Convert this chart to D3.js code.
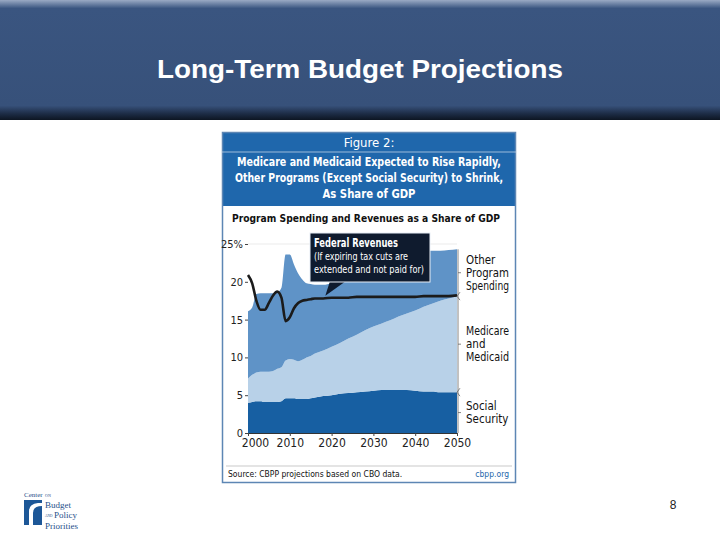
<!DOCTYPE html>
<html>
<head>
<meta charset="utf-8">
<script src="https://cdn.jsdelivr.net/npm/d3@7"></script>
<style>
  body { margin: 0; background: #fff; }
  svg { display: block; }
  .cond { font-family: "DejaVu Sans Condensed", "DejaVu Sans", sans-serif; font-stretch: condensed; }
</style>
</head>
<body>
<div id="slide"></div>
<script>
var width = 720, height = 540;

// years and series (share of GDP, %)
var years = [2000,2001,2002,2003,2004,2005,2006,2007,2008,2009,2010,2011,2012,2013,2014,2015,2016,
  2018,2020,2022,2024,2026,2028,2030,2032,2034,2036,2038,2040,2042,2044,2046,2048,2050];
var socialSecurity = [4.0,4.1,4.2,4.2,4.1,4.1,4.1,4.1,4.2,4.6,4.6,4.6,4.5,4.5,4.5,4.6,4.7,
  4.9,5.0,5.2,5.3,5.4,5.5,5.6,5.7,5.7,5.7,5.7,5.6,5.5,5.5,5.4,5.4,5.4];
var medicareMedicaid = [3.2,3.6,3.8,3.9,4.0,4.0,4.1,4.4,4.5,5.0,5.2,5.1,5.0,5.2,5.5,5.6,5.8,
  6.0,6.4,6.7,7.2,7.6,8.1,8.5,8.8,9.2,9.7,10.1,10.6,11.2,11.6,12.1,12.4,12.7];
var otherPrograms = [8.9,8.9,10.4,10.4,10.4,10.4,10.3,10.1,10.5,14.0,13.8,12.6,11.6,10.6,9.8,9.5,9.1,
  8.7,8.4,8.4,8.4,8.5,8.4,8.4,8.4,8.4,8.2,8.0,7.8,7.3,7.0,6.6,6.4,6.2];
var revenues = [20.9,19.8,17.5,16.3,16.3,17.2,18.2,18.7,17.9,14.8,15.3,16.5,17.2,17.5,17.6,17.7,17.8,
  17.8,17.9,17.9,17.9,18.0,18.0,18.0,18.0,18.0,18.0,18.0,18.0,18.1,18.1,18.1,18.1,18.2];

var seriesKeys = ['ss', 'mm', 'other'];
var seriesColors = { ss: '#175fa2', mm: '#b8d1e8', other: '#5f93c7' };
var seriesLabels = {
  other: ['Other', 'Program', 'Spending'],
  mm: ['Medicare', 'and', 'Medicaid'],
  ss: ['Social', 'Security']
};
var yTicks = [0, 5, 10, 15, 20, 25];
var xTicks = [2000, 2010, 2020, 2030, 2040, 2050];
var titleLines = ['Medicare and Medicaid Expected to Rise Rapidly,',
  'Other Programs  (Except Social Security) to Shrink,', 'As Share of GDP'];

var rows = years.map(function(y, i) {
  return { year: y, ss: socialSecurity[i], mm: medicareMedicaid[i], other: otherPrograms[i], rev: revenues[i] };
});

var svg = d3.select('#slide').append('svg')
  .attr('width', width)
  .attr('height', height);

var defs = svg.append('defs');
var hg = defs.append('linearGradient').attr('id', 'hdr').attr('x1', 0).attr('y1', 0).attr('x2', 0).attr('y2', 1);
hg.append('stop').attr('offset', 0).attr('stop-color', '#9aaac4');
hg.append('stop').attr('offset', 0.07).attr('stop-color', '#3a5580');
hg.append('stop').attr('offset', 0.88).attr('stop-color', '#37517a');
hg.append('stop').attr('offset', 0.95).attr('stop-color', '#1c2b44');
hg.append('stop').attr('offset', 1).attr('stop-color', '#0d1522');

// slide header
svg.append('rect').attr('x', 0).attr('y', 0).attr('width', width).attr('height', 120).attr('fill', 'url(#hdr)');
svg.append('text')
  .attr('x', 360).attr('y', 78)
  .attr('text-anchor', 'middle')
  .attr('fill', '#fff')
  .attr('textLength', 406).attr('lengthAdjust', 'spacingAndGlyphs')
  .style('font-family', 'Liberation Sans, Arial, sans-serif')
  .style('font-weight', 'bold')
  .style('font-size', '25px')
  .text('Long-Term Budget Projections');

// figure frame
var fx = 222, fy = 132, fw = 294, fh = 351;
svg.append('rect').attr('x', fx).attr('y', fy).attr('width', fw).attr('height', 74).attr('fill', '#1f67ac');
svg.append('rect').attr('x', fx + 0.5).attr('y', fy + 0.5).attr('width', fw - 1).attr('height', fh - 1)
  .attr('fill', 'none').attr('stroke', '#5d86b4').attr('stroke-width', 1.5);

// fits text into a width by squeezing glyphs
function fit(sel, w) {
  sel.each(function() {
    var len = this.getComputedTextLength();
    if (len > w) d3.select(this).attr('textLength', w).attr('lengthAdjust', 'spacingAndGlyphs');
  });
}

svg.append('text').attr('class', 'cond')
  .attr('x', fx + fw / 2).attr('y', 147)
  .attr('text-anchor', 'middle').attr('fill', '#fff')
  .style('font-size', '13px')
  .text('Figure 2:');
svg.append('line').attr('x1', fx).attr('x2', fx + fw).attr('y1', 152).attr('y2', 152)
  .attr('stroke', '#bcd0e6').attr('stroke-width', 0.8);

var titleWidths = [264, 268, 93];
svg.selectAll('.ttl').data(titleLines).enter().append('text')
  .attr('class', 'cond ttl')
  .attr('x', fx + fw / 2)
  .attr('y', function(d, i) { return 166 + i * 16; })
  .attr('text-anchor', 'middle').attr('fill', '#fff')
  .style('font-size', '13px').style('font-weight', 'bold')
  .text(function(d) { return d; })
  .each(function(d, i) { fit(d3.select(this), titleWidths[i]); });

fit(svg.append('text').attr('class', 'cond')
  .attr('x', 232).attr('y', 222)
  .attr('fill', '#111')
  .style('font-size', '10.5px').style('font-weight', 'bold')
  .text('Program Spending and Revenues as a Share of GDP'), 268);

// chart
var x = d3.scaleLinear().domain([2000, 2050]).range([248, 457]);
var y = d3.scaleLinear().domain([0, 25]).range([433, 244]);

var stack = d3.stack().keys(seriesKeys);
var layers = stack(rows);

var area = d3.area()
  .x(function(d) { return x(d.data.year); })
  .y0(function(d) { return y(d[0]); })
  .y1(function(d) { return y(d[1]); })
  .curve(d3.curveMonotoneX);

svg.append('line').attr('x1', x(2000)).attr('x2', x(2050)).attr('y1', y(25)).attr('y2', y(25))
  .attr('stroke', '#ddd').attr('stroke-width', 0.6);

svg.selectAll('path.layer')
  .data(layers)
  .enter().append('path')
  .attr('class', 'layer')
  .attr('d', area)
  .attr('fill', function(d) { return seriesColors[d.key]; });

var line = d3.line()
  .x(function(d) { return x(d.year); })
  .y(function(d) { return y(d.rev); })
  .curve(d3.curveMonotoneX);

svg.append('path')
  .datum(rows)
  .attr('d', line)
  .attr('fill', 'none')
  .attr('stroke', '#1b1b1b')
  .attr('stroke-width', 2.6);

// y axis
var yAxis = d3.axisLeft(y).tickValues(yTicks).tickSize(3).tickPadding(2)
  .tickFormat(function(d) { return d === 25 ? '25%' : d; });
var gy = svg.append('g').attr('transform', 'translate(' + x(2000) + ',0)').call(yAxis);
gy.select('.domain').remove();
gy.selectAll('text').attr('class', 'cond').style('font-size', '11px').attr('fill', '#222');
gy.selectAll('line').attr('stroke', '#444');

// x axis
var xAxis = d3.axisBottom(x).tickValues(xTicks).tickSize(3).tickPadding(2).tickFormat(d3.format('d'));
var gx = svg.append('g').attr('transform', 'translate(0,' + y(0) + ')').call(xAxis);
gx.select('.domain').attr('stroke', '#333');
gx.selectAll('text').attr('class', 'cond').style('font-size', '12px').attr('fill', '#222')
  .attr('dx', function(d) { return d === 2000 ? 7 : 0; });
gx.selectAll('line').attr('stroke', '#444');

// right brace
var bx = 458;
var lastTop = layers[2][layers[2].length - 1][1];
svg.append('line').attr('x1', bx).attr('x2', bx).attr('y1', y(lastTop)).attr('y2', y(0))
  .attr('stroke', '#666').attr('stroke-width', 0.8);
layers.forEach(function(l, i) {
  var top = l[l.length - 1][1], bot = l[l.length - 1][0];
  var mid = (top + bot) / 2;
  svg.append('line').attr('x1', bx).attr('x2', bx + 3).attr('y1', y(mid)).attr('y2', y(mid))
    .attr('stroke', '#666').attr('stroke-width', 0.8);
  if (i < 2) {
    svg.append('path')
      .attr('d', 'M' + (bx + 2) + ',' + (y(top) - 4) + 'L' + (bx - 1) + ',' + y(top) + 'L' + (bx + 2) + ',' + (y(top) + 4))
      .attr('fill', 'none').attr('stroke', '#666').attr('stroke-width', 0.8);
  }
  var lines = seriesLabels[l.key];
  svg.selectAll('.lbl-' + l.key).data(lines).enter().append('text')
    .attr('class', 'cond')
    .attr('x', 466)
    .attr('y', function(d, j) { return y(mid) + (j - (lines.length - 1) / 2) * 13 + 4; })
    .attr('fill', '#111')
    .style('font-size', '11.5px')
    .text(function(d) { return d; })
    .each(function() { fit(d3.select(this), 43); });
});

// callout box for revenues
var bxL = 310, bxT = 233, bxW = 120, bxH = 49;
svg.append('path')
  .attr('d', 'M' + 330 + ',' + (bxT + bxH - 1) + 'L' + x(2018.5) + ',' + (y(17.9) - 2) + 'L' + 346 + ',' + (bxT + bxH - 1) + 'Z')
  .attr('fill', '#0f1b2e');
svg.append('rect').attr('x', bxL).attr('y', bxT).attr('width', bxW).attr('height', bxH)
  .attr('fill', '#0f1b2e').attr('stroke', '#e8eef6').attr('stroke-width', 1);
var calloutLines = ['Federal Revenues', '(If expiring tax cuts are', 'extended and not paid for)'];
var calloutWidths = [84, 94, 110];
svg.selectAll('.call').data(calloutLines).enter().append('text')
  .attr('class', 'cond call')
  .attr('x', 314)
  .attr('y', function(d, i) { return 247 + i * 13; })
  .attr('fill', '#fff')
  .style('font-size', function(d, i) { return i === 0 ? '12px' : '11px'; })
  .style('font-weight', function(d, i) { return i === 0 ? 'bold' : 'normal'; })
  .text(function(d) { return d; })
  .each(function(d, i) { fit(d3.select(this), calloutWidths[i]); });

// source line
svg.append('line').attr('x1', fx + 4).attr('x2', fx + fw - 4).attr('y1', 466).attr('y2', 466)
  .attr('stroke', '#bbb').attr('stroke-width', 0.8);
svg.append('text').attr('class', 'cond')
  .attr('x', 228).attr('y', 477).attr('fill', '#111').style('font-size', '8.5px')
  .text('Source: CBPP projections based on CBO data.');
svg.append('text').attr('class', 'cond')
  .attr('x', 509).attr('y', 477).attr('text-anchor', 'end').attr('fill', '#1f67ac').style('font-size', '8.5px')
  .text('cbpp.org');

// logo
var logo = svg.append('g').attr('transform', 'translate(24,491)');
var serif = 'Liberation Serif, serif';
logo.append('text').attr('x', 0).attr('y', 6).attr('fill', '#1f4f8a')
  .style('font-family', serif).style('font-size', '7px').text('Center');
logo.append('text').attr('x', 21).attr('y', 6).attr('fill', '#1f4f8a')
  .style('font-family', serif).style('font-size', '4px').text('ON');
logo.append('rect').attr('x', 0).attr('y', 9).attr('width', 18).attr('height', 25).attr('fill', '#1d5797');
logo.append('path').attr('d', 'M5,34 L5,20 Q5,13 14,12 L18,12 L18,15 Q9,15 9,22 L9,34 Z').attr('fill', '#fff');
logo.append('text').attr('x', 21).attr('y', 16.5).attr('fill', '#1f4f8a')
  .style('font-family', serif).style('font-size', '9px').text('Budget');
logo.append('text').attr('x', 21).attr('y', 25.5).attr('fill', '#1f4f8a')
  .style('font-family', serif).style('font-size', '3.5px').text('AND');
logo.append('text').attr('x', 30).attr('y', 27).attr('fill', '#1f4f8a')
  .style('font-family', serif).style('font-size', '9px').text('Policy');
logo.append('text').attr('x', 21).attr('y', 37.5).attr('fill', '#1f4f8a')
  .style('font-family', serif).style('font-size', '9px').text('Priorities');

// page number
svg.append('text').attr('x', 673).attr('y', 509).attr('text-anchor', 'middle')
  .attr('fill', '#222').style('font-family', 'Liberation Sans, Arial, sans-serif').style('font-size', '12px')
  .text('8');
</script>
</body>
</html>
